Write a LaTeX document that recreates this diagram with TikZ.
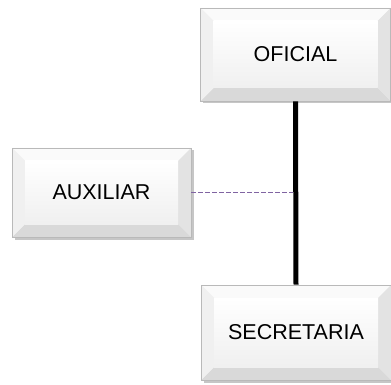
\documentclass[tikz,border=0pt]{standalone}
\usepackage{fontspec}
\setmainfont{Liberation Sans}
\usetikzlibrary{shadows}
\tikzset{
  bevelbox/.style={
    draw=gray!55, line width=0.6pt, fill=gray!10, inner sep=0pt,
    font=\fontsize{21.5}{25}\selectfont,
    drop shadow={shadow xshift=2.5pt, shadow yshift=-2.5pt, opacity=0.45, fill=gray},
    path picture={
      \coordinate (pnw) at (path picture bounding box.north west);
      \coordinate (pne) at (path picture bounding box.north east);
      \coordinate (psw) at (path picture bounding box.south west);
      \coordinate (pse) at (path picture bounding box.south east);
      \fill[gray!4] (pnw) -- (pne) -- ([shift={(-13pt,-13pt)}]pne) -- ([shift={(13pt,-13pt)}]pnw) -- cycle;
      \fill[gray!30] (psw) -- (pse) -- ([shift={(-13pt,13pt)}]pse) -- ([shift={(13pt,13pt)}]psw) -- cycle;
      \fill[gray!12] (pnw) -- ([shift={(13pt,-13pt)}]pnw) -- ([shift={(13pt,13pt)}]psw) -- (psw) -- cycle;
      \fill[gray!22] (pne) -- ([shift={(-13pt,-13pt)}]pne) -- ([shift={(-13pt,13pt)}]pse) -- (pse) -- cycle;
      \shade[top color=white, bottom color=gray!12] ([shift={(13pt,-13pt)}]pnw) rectangle ([shift={(-13pt,13pt)}]pse);
    }
  },
  mainline/.style={line width=5pt, black},
  dashline/.style={line width=1.8pt, color={rgb,255:red,128;green,100;blue,162}, dash pattern=on 4.5pt off 2.5pt}
}
\begin{document}
\begin{tikzpicture}[x=1pt,y=-1pt]
  \useasboundingbox (0,0) rectangle (391,385);
  \node[bevelbox, minimum width=190pt, minimum height=93pt] (ofi) at (295.5,54.5) {OFICIAL};
  \node[bevelbox, minimum width=179pt, minimum height=89pt] (aux) at (101.5,192.5) {AUXILIAR};
  \node[bevelbox, minimum width=190pt, minimum height=95pt] (sec) at (296,332.5) {SECRETARIA};
  \coordinate (j) at (aux.east -| ofi.south);
  \draw[mainline] (ofi.south) -- (sec.north);
  \draw[dashline] (aux.east) -- ([xshift=-2.5pt]j);
\end{tikzpicture}
\end{document}
